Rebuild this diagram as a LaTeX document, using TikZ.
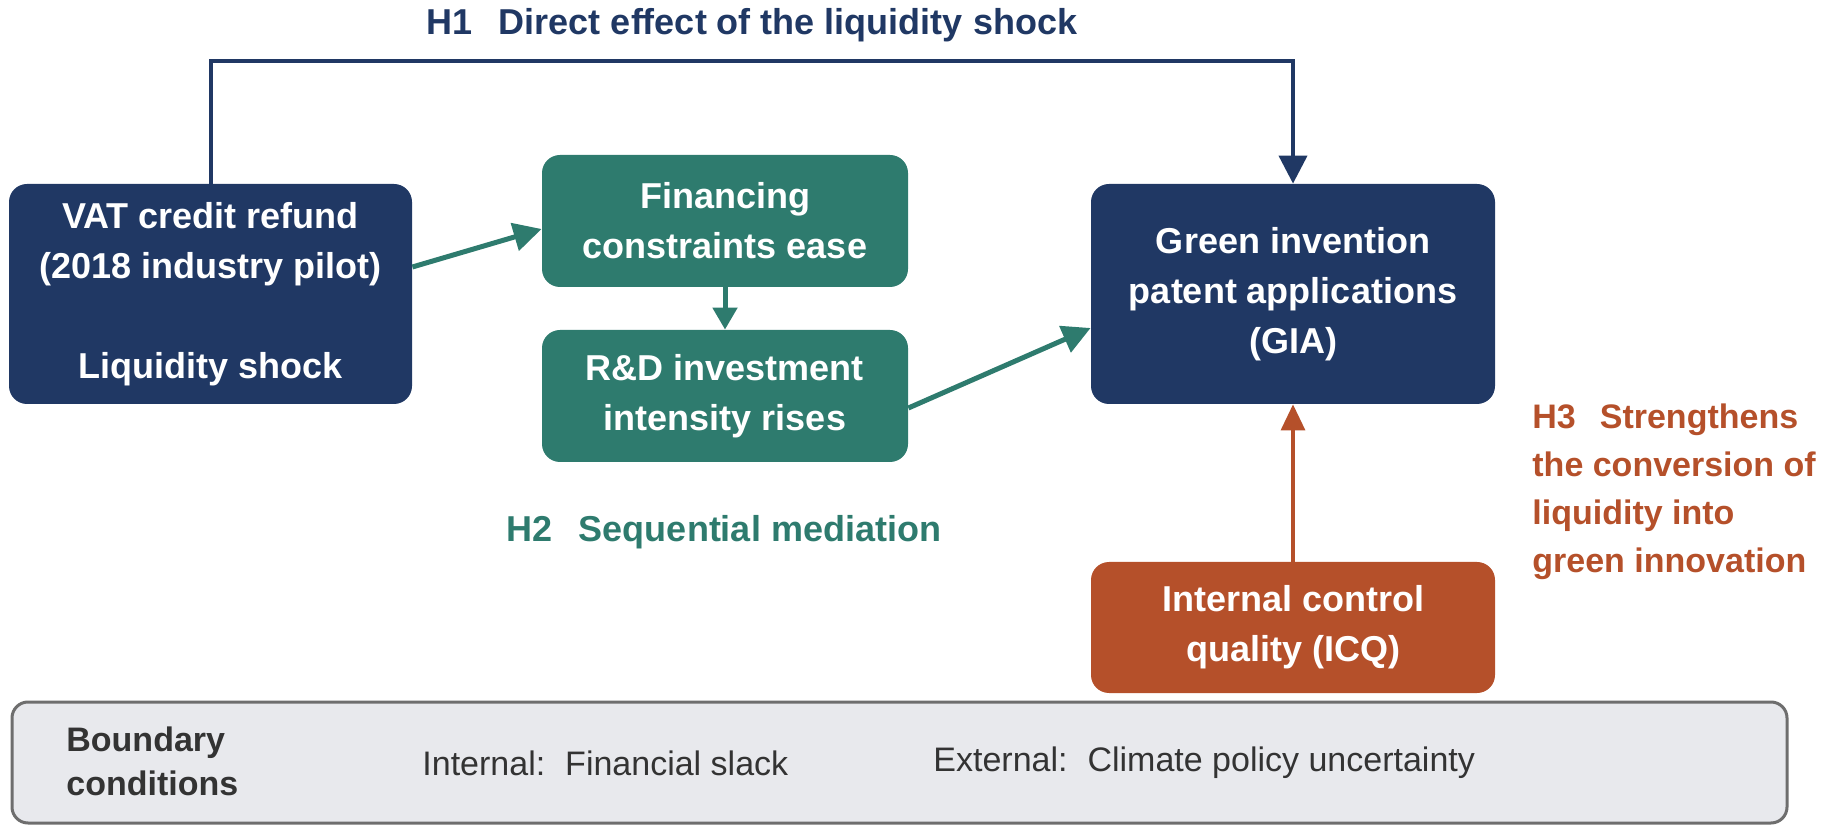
\documentclass[tikz,border=0pt]{standalone}
\usepackage{fontspec}
\setmainfont{Liberation Sans}
\usetikzlibrary{arrows.meta,calc}
\definecolor{navy}{HTML}{203864}
\definecolor{tealc}{HTML}{2E7B6E}
\definecolor{rust}{HTML}{B5502A}
\definecolor{bfill}{HTML}{E8E9ED}
\definecolor{bdraw}{HTML}{6E6E6E}
\definecolor{btext}{HTML}{333333}
\begin{document}
\begin{tikzpicture}[x=0.5pt,y=-0.5pt,
  box/.style={rounded corners=9pt, inner sep=0pt, align=center, text=white,
    font=\fontsize{18pt}{25pt}\selectfont\bfseries},
  navybox/.style={box, fill=navy},
  tealbox/.style={box, fill=tealc},
  rustbox/.style={box, fill=rust},
  tealarrow/.style={draw=tealc, line width=2.5pt, -{Triangle[length=14pt,width=14pt]}},
  navyarrow/.style={draw=navy, line width=2pt, -{Triangle[length=14pt,width=14pt]}},
  rustarrow/.style={draw=rust, line width=1.6pt, -{Triangle[length=13pt,width=12pt]}},
  lbl/.style={inner sep=0pt, font=\fontsize{18pt}{25pt}\selectfont\bfseries},
  blbl/.style={inner sep=0pt, anchor=west, text=btext, align=left}
]
\useasboundingbox (0,0) rectangle (1829,838);

% boxes
\node[navybox, minimum width=201.5pt, minimum height=110pt] (vat) at (210.5,294)
  {VAT credit refund\\(2018 industry pilot)\\[25pt]Liquidity shock};
\node[tealbox, minimum width=183pt, minimum height=66pt] (fin) at (725,221)
  {Financing\\constraints ease};
\node[tealbox, minimum width=183pt, minimum height=66pt] (rd) at (725,396)
  {R\&D investment\\intensity rises};
\node[navybox, minimum width=202pt, minimum height=110pt] (gia) at (1293,294)
  {Green invention\\patent applications\\(GIA)};
\node[rustbox, minimum width=202pt, minimum height=65.5pt] (icq) at (1293,627.5)
  {Internal control\\quality (ICQ)};
\node[draw=bdraw, line width=1.5pt, fill=bfill, rounded corners=8pt,
  minimum width=887.5pt, minimum height=60.5pt, inner sep=0pt] (bound) at (899.5,762.5) {};

% labels
\node[lbl, text=navy] (h1) at (752,25) {H1\hspace{13pt}Direct effect of the liquidity shock};
\node[lbl, text=tealc] (h2) at (724,532) {H2\hspace{13pt}Sequential mediation};
\node[inner sep=0pt, anchor=west, align=left, text=rust,
  font=\fontsize{17pt}{24pt}\selectfont\bfseries] (h3) at (1532,492)
  {H3\hspace{12pt}Strengthens\\the conversion of\\liquidity into\\green innovation};

\node[blbl, font=\fontsize{17pt}{22pt}\selectfont\bfseries] (bc) at (66,761) {Boundary\\conditions};
\node[blbl, font=\fontsize{17pt}{22pt}\selectfont] (bi) at (422,763) {Internal:\hspace{10pt}Financial slack};
\node[blbl, font=\fontsize{17pt}{22pt}\selectfont] (be) at (933,763) {External:\hspace{10pt}Climate policy uncertainty};

% connectors
\coordinate (h1y) at (0,61);
\draw[navyarrow] (vat.north) -- (vat.north |- h1y) -| (gia.north);
\draw[tealarrow] ([yshift=13.5pt]vat.east) -- ([yshift=-4pt]fin.west);
\draw[tealarrow, -{Triangle[length=11pt,width=12pt]}] (fin.south) -- (rd.north);
\draw[tealarrow] ([yshift=-6pt]rd.east) -- ([yshift=-17pt]gia.west);
\draw[rustarrow] (icq.north) -- (gia.south);
\end{tikzpicture}
\end{document}
